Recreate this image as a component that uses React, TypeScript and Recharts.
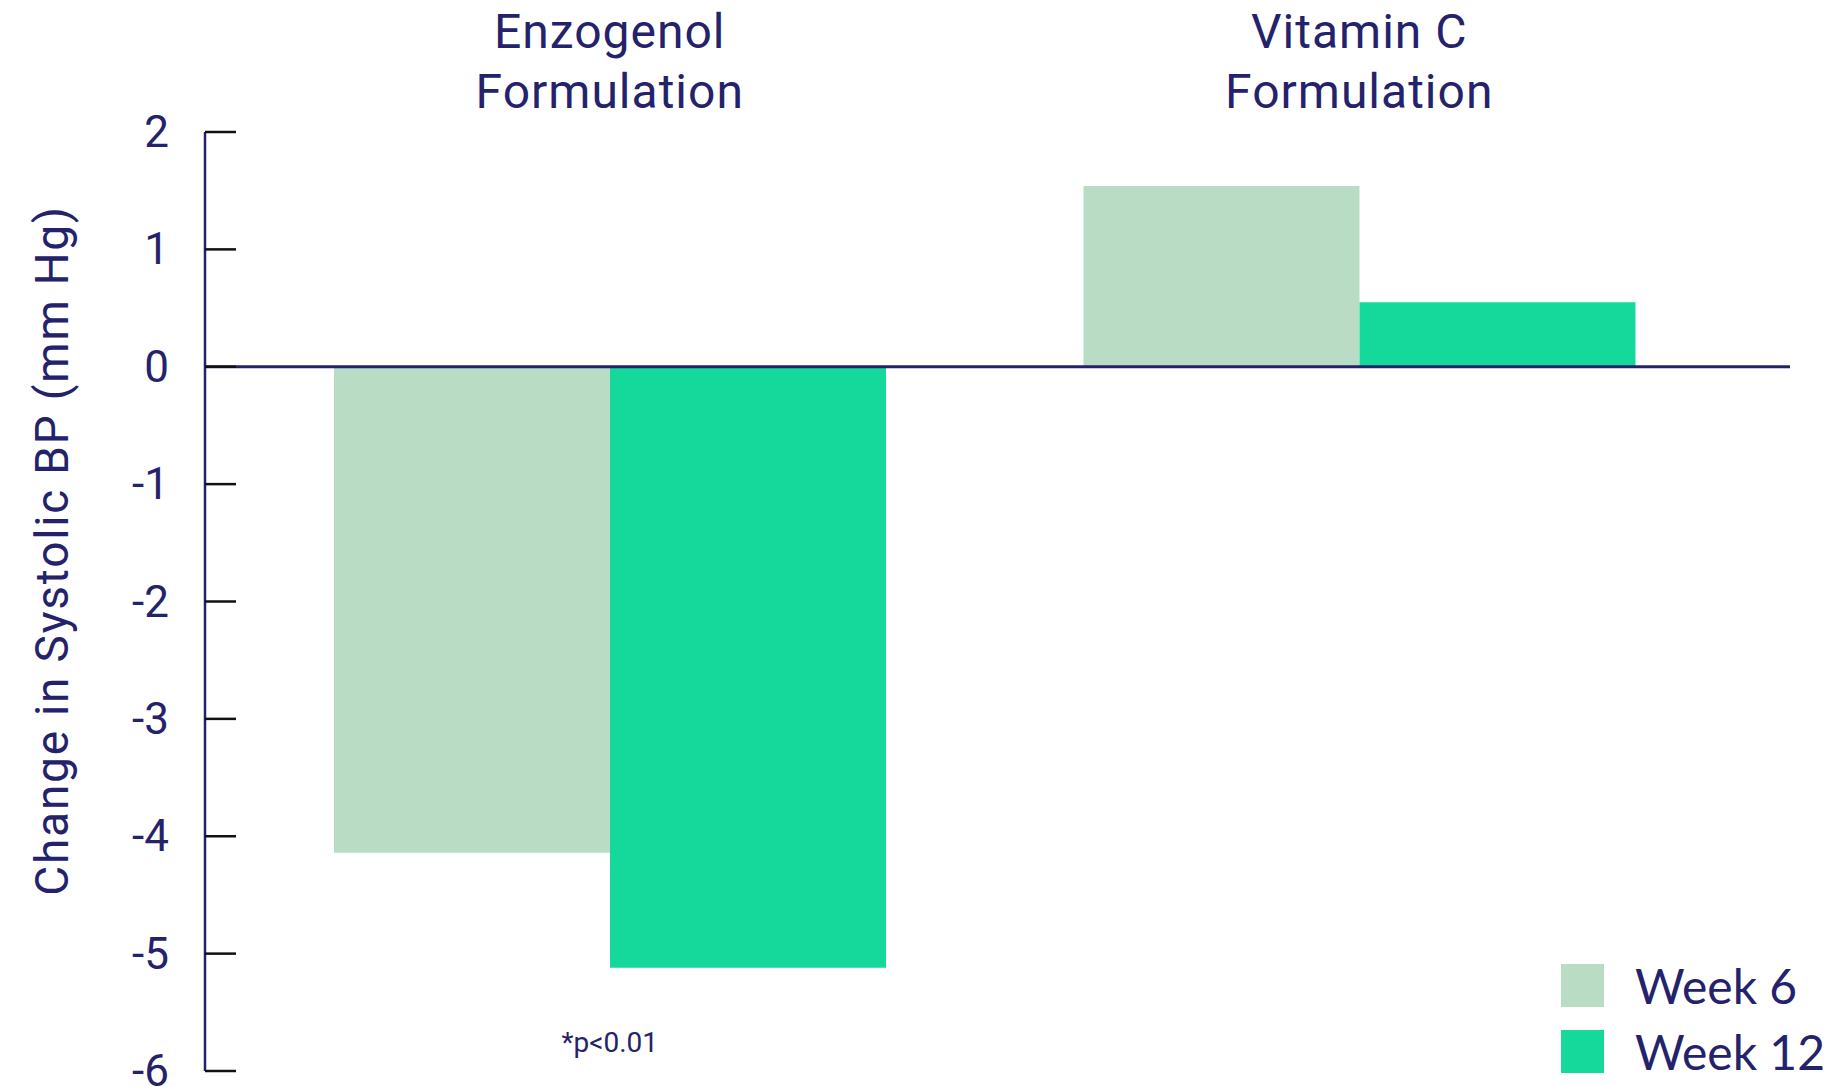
import React from 'react';
import { BarChart, Bar, XAxis, YAxis, ReferenceLine, ReferenceDot, Legend, Label } from 'recharts';

const categories = ['Enzogenol Formulation', 'Vitamin C Formulation'];
const week6 = [-4.14, 1.54];
const week12 = [-5.12, 0.55];
const seriesNames = ['Week 6', 'Week 12'];
const yTicks = [-6, -5, -4, -3, -2, -1, 0, 1, 2];
const yLabel = 'Change in Systolic BP (mm Hg)';
const note = '*p<0.01';
const noteValue = -5.75;

const NAVY = '#25226c';
const LIGHT = '#b9dcc4';
const BRIGHT = '#14d99b';

const data = categories.map((c, i) => ({ category: c, week6: week6[i], week12: week12[i] }));

function CategoryTick(props: any) {
  const { x, y, payload } = props;
  const value: string = payload.value;
  const cut = value.lastIndexOf(' ');
  const lines = [value.slice(0, cut), value.slice(cut + 1)];
  return (
    <g>
      {lines.map((line, i) => (
        <text
          key={i}
          x={x}
          y={y - 84 + i * 60}
          textAnchor="middle"
          fill={NAVY}
          fontSize={48}
          letterSpacing={1}
        >
          {line}
        </text>
      ))}
    </g>
  );
}

function ValueTick(props: any) {
  const { x, y, payload } = props;
  return (
    <g>
      <line x1={x} y1={y} x2={x + 31} y2={y} stroke="#111" strokeWidth={2.5} />
      <text x={x - 36} y={y} textAnchor="end" dominantBaseline="central" fill={NAVY} fontSize={44}>
        {payload.value}
      </text>
    </g>
  );
}

function YTitle(props: any) {
  const { viewBox } = props;
  const cx = viewBox.x + 52;
  const cy = viewBox.y + viewBox.height / 2 - 51;
  return (
    <text
      x={cx}
      y={cy}
      transform={`rotate(-90 ${cx} ${cy})`}
      textAnchor="middle"
      dominantBaseline="central"
      fill={NAVY}
      fontSize={46}
      letterSpacing={1.8}
    >
      {yLabel}
    </text>
  );
}

function LegendBox(props: any) {
  const items = [...(props.payload || [])].sort(
    (a: any, b: any) => seriesNames.indexOf(a.value) - seriesNames.indexOf(b.value)
  );
  return (
    <div>
      {items.map((item: any, i: number) => (
        <div key={i} style={{ display: 'flex', alignItems: 'center', height: 43, marginBottom: 23 }}>
          <div style={{ width: 43, height: 43, background: item.color, marginRight: 31 }} />
          <span style={{ fontFamily: 'Lato', fontSize: 48, color: NAVY, lineHeight: '43px', whiteSpace: 'nowrap' }}>
            {item.value}
          </span>
        </div>
      ))}
    </div>
  );
}

export default function App() {
  return (
    <div style={{ position: 'absolute', left: 0, top: 0, background: '#fff', fontFamily: 'Roboto' }}>
      <BarChart
        width={1826}
        height={1086}
        data={data}
        margin={{ top: 0, right: 36, bottom: 15, left: 0 }}
        barGap={0}
        barSize={276}
      >
        <XAxis
          dataKey="category"
          orientation="top"
          height={132}
          axisLine={false}
          tickLine={false}
          tickSize={0}
          tickMargin={0}
          padding={{ left: 30, right: 56 }}
          tick={<CategoryTick />}
          interval={0}
        />
        <YAxis
          width={205}
          domain={[-6, 2]}
          ticks={yTicks}
          allowDataOverflow
          axisLine={{ stroke: NAVY, strokeWidth: 2.5 }}
          tickLine={false}
          tickSize={0}
          tickMargin={0}
          tick={<ValueTick />}
          interval={0}
        >
          <Label content={<YTitle />} />
        </YAxis>
        <Bar dataKey="week6" name={seriesNames[0]} fill={LIGHT} isAnimationActive={false} />
        <Bar dataKey="week12" name={seriesNames[1]} fill={BRIGHT} isAnimationActive={false} />
        <ReferenceLine y={0} stroke={NAVY} strokeWidth={3} />
        <ReferenceDot
          x={categories[0]}
          y={noteValue}
          r={0}
          fill="none"
          stroke="none"
          label={{ value: note, position: 'center', fontSize: 28, fill: NAVY }}
        />
        <Legend
          layout="vertical"
          align="center"
          verticalAlign="middle"
          content={<LegendBox />}
          wrapperStyle={{ position: 'absolute', left: 1561, top: 964, width: 265 }}
        />
      </BarChart>
    </div>
  );
}
